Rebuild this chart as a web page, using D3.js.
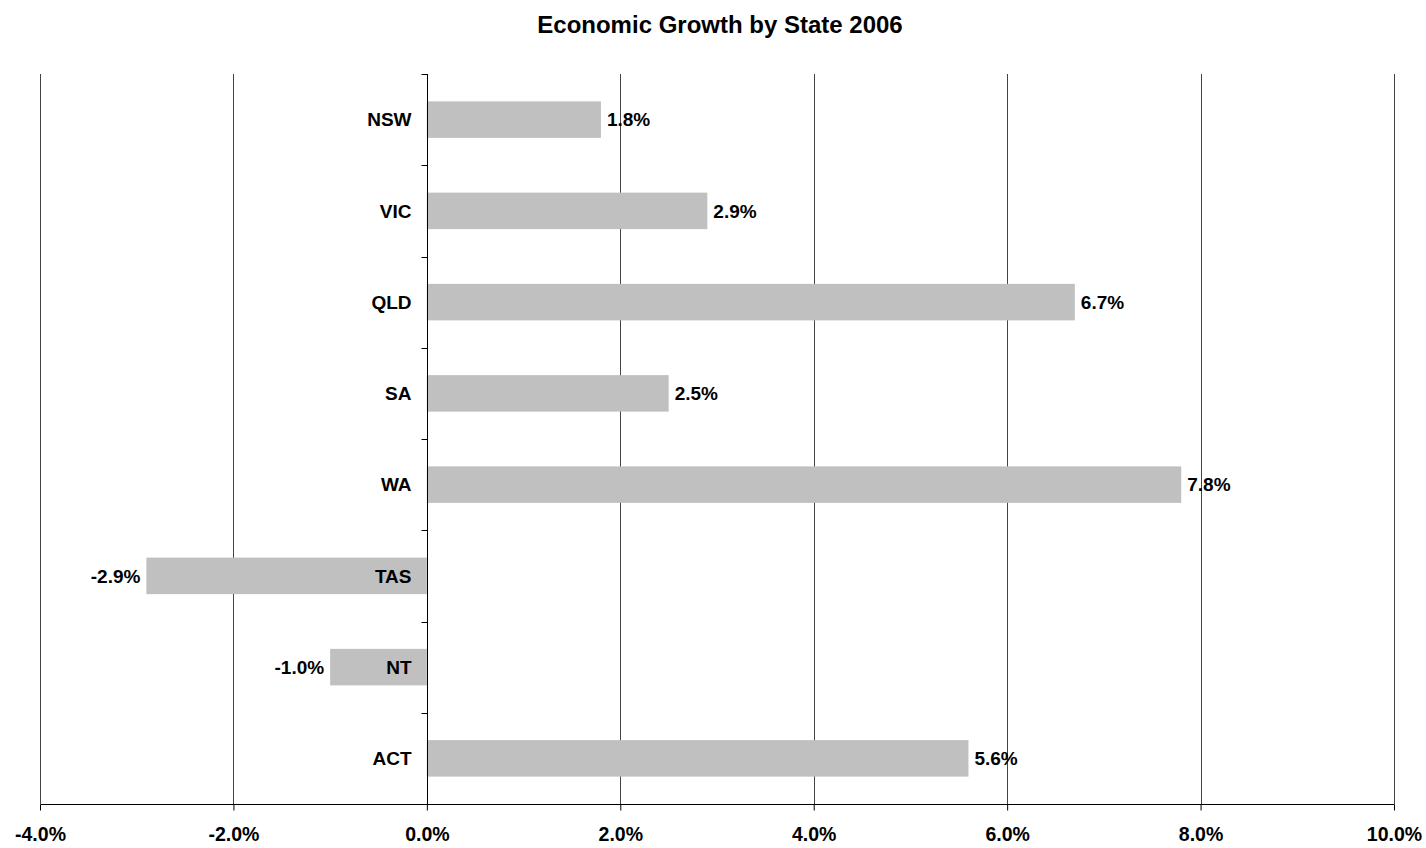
<!DOCTYPE html>
<html>
<head>
<meta charset="utf-8">
<script src="https://cdn.jsdelivr.net/npm/d3@7"></script>
<style>
  body { margin: 0; background: #fff; }
  text { font-family: "Liberation Sans", Arial, sans-serif; font-weight: bold; fill: #000; }
</style>
</head>
<body>
<svg id="chart"></svg>
<script>
var states = ["NSW", "VIC", "QLD", "SA", "WA", "TAS", "NT", "ACT"];
var growth = [1.8, 2.9, 6.7, 2.5, 7.8, -2.9, -1.0, 5.6];
var xTicks = [-4, -2, 0, 2, 4, 6, 8, 10];
var chartTitle = "Economic Growth by State 2006";

var margin = { top: 74, right: 32, bottom: 44, left: 40 },
    width = 1426 - margin.left - margin.right,
    height = 848 - margin.top - margin.bottom;

var svg = d3.select("#chart")
    .attr("width", width + margin.left + margin.right)
    .attr("height", height + margin.top + margin.bottom);

svg.append("text")
    .attr("x", 720)
    .attr("y", 33)
    .attr("text-anchor", "middle")
    .style("font-size", "24px")
    .text(chartTitle);

var g = svg.append("g")
    .attr("transform", "translate(" + margin.left + "," + margin.top + ")");

var x = d3.scaleLinear().domain([-4, 10]).range([0, width]);
var y = d3.scaleBand().domain(states).range([0, height]);

// vertical grid lines
g.selectAll(".grid")
    .data(xTicks)
    .enter().append("line")
    .attr("class", "grid")
    .attr("x1", function (d) { return Math.round(x(d)) + 0.5; })
    .attr("x2", function (d) { return Math.round(x(d)) + 0.5; })
    .attr("y1", 0)
    .attr("y2", height)
    .attr("stroke", "#444")
    .attr("stroke-width", 1);

// bars
var barH = y.bandwidth() * 0.4;
g.selectAll(".bar")
    .data(states)
    .enter().append("rect")
    .attr("class", "bar")
    .attr("x", function (d, i) { return x(Math.min(0, growth[i])); })
    .attr("y", function (d) { return y(d) + (y.bandwidth() - barH) / 2; })
    .attr("width", function (d, i) { return Math.abs(x(growth[i]) - x(0)); })
    .attr("height", barH)
    .attr("fill", "#c0c0c0");

// value labels
g.selectAll(".val")
    .data(states)
    .enter().append("text")
    .attr("class", "val")
    .attr("x", function (d, i) { return growth[i] < 0 ? x(growth[i]) - 6 : x(growth[i]) + 6; })
    .attr("y", function (d) { return y(d) + y.bandwidth() / 2 + 6.8; })
    .attr("text-anchor", function (d, i) { return growth[i] < 0 ? "end" : "start"; })
    .style("font-size", "19px")
    .text(function (d, i) { return growth[i].toFixed(1) + "%"; });

// category axis at zero
var yAxis = g.append("g").attr("transform", "translate(" + (Math.round(x(0)) + 0.5) + ",0)");
yAxis.append("line")
    .attr("y1", 0).attr("y2", height)
    .attr("stroke", "#000");
yAxis.selectAll(".ytick")
    .data(states.concat(["end"]))
    .enter().append("line")
    .attr("class", "ytick")
    .attr("x1", -6).attr("x2", 0)
    .attr("y1", function (d, i) { return Math.round(i * y.step()) + 0.5; })
    .attr("y2", function (d, i) { return Math.round(i * y.step()) + 0.5; })
    .attr("stroke", "#000");
yAxis.selectAll(".cat")
    .data(states)
    .enter().append("text")
    .attr("class", "cat")
    .attr("x", -16)
    .attr("y", function (d) { return y(d) + y.bandwidth() / 2 + 6.8; })
    .attr("text-anchor", "end")
    .style("font-size", "19px")
    .text(function (d) { return d; });

// x axis
var xAxis = d3.axisBottom(x)
    .tickValues(xTicks)
    .tickSize(6)
    .tickPadding(17)
    .tickFormat(function (d) { return d.toFixed(1) + "%"; });
var xg = g.append("g")
    .attr("transform", "translate(0," + (height + 0.5) + ")")
    .call(xAxis);
xg.select(".domain").attr("stroke", "#000").attr("d", "M0.5,0H" + (width + 0.5));
xg.selectAll(".tick line").attr("stroke", "#000");
xg.selectAll(".tick text")
    .style("font-size", "19.5px")
    .style("font-family", "'Liberation Sans', Arial, sans-serif")
    .style("font-weight", "bold")
    .attr("fill", "#000");
</script>
</body>
</html>
